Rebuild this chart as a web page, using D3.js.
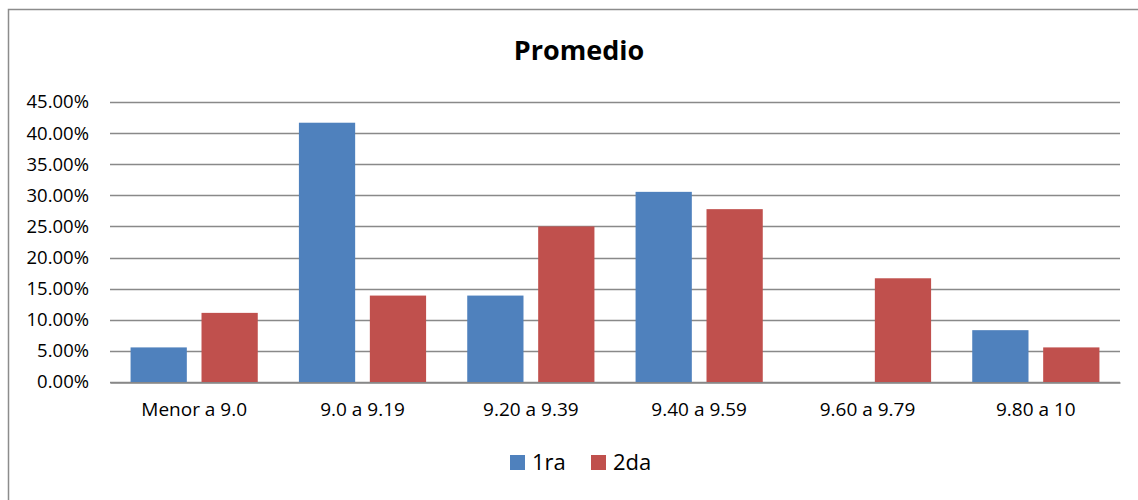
<!DOCTYPE html>
<html>
<head>
<meta charset="utf-8">
<script src="https://cdn.jsdelivr.net/npm/d3@7"></script>
<style>
  body { margin: 0; background: #fff; }
  text { font-family: "Open Sans", "Noto Sans", sans-serif; fill: #000; }
</style>
</head>
<body>
<svg id="chart"></svg>
<script>
/* datos del grafico */
var categorias = ["Menor a 9.0", "9.0 a 9.19", "9.20 a 9.39", "9.40 a 9.59", "9.60 a 9.79", "9.80 a 10"];
var series = ["1ra", "2da"];
var primera = [0.0556, 0.4167, 0.1389, 0.3056, 0, 0.0833];
var segunda = [0.1111, 0.1389, 0.25, 0.2778, 0.1667, 0.0556];
var ticksY = [0, 0.05, 0.10, 0.15, 0.20, 0.25, 0.30, 0.35, 0.40, 0.45];

var width = 1138, height = 500;
var margin = {left: 110, right: 18, top: 102, bottom: 118};

var svg = d3.select("#chart")
	.attr("width", width)
	.attr("height", height);

/* marco exterior */
svg.append("rect")
	.attr("x", 8.5)
	.attr("y", 9.5)
	.attr("width", width + 20)
	.attr("height", height + 20)
	.attr("fill", "none")
	.attr("stroke", "#8c8c8c")
	.attr("stroke-width", 1.5);

var x0 = d3.scaleBand()
	.domain(categorias)
	.range([margin.left, width - margin.right])
	.paddingInner(0)
	.paddingOuter(0);

var x1 = d3.scaleBand()
	.domain(series)
	.range([0, x0.bandwidth()])
	.paddingInner(0.207)
	.paddingOuter(0.29);

var y = d3.scaleLinear()
	.domain([0, 0.45])
	.range([height - margin.bottom, margin.top]);

var color = d3.scaleOrdinal(series, ["#4f81bd", "#c0504d"]);

/* lineas de cuadricula */
svg.append("g")
	.selectAll("line")
	.data(ticksY)
	.enter()
	.append("line")
		.attr("x1", margin.left)
		.attr("x2", width - margin.right)
		.attr("y1", function(d) { return Math.round(y(d)) + 0.5; })
		.attr("y2", function(d) { return Math.round(y(d)) + 0.5; })
		.attr("stroke", "#898989")
		.attr("stroke-width", 1.6);

/* eje Y */
var yAxis = svg.append("g")
	.attr("transform", "translate(" + margin.left + ",0)")
	.call(d3.axisLeft(y)
		.tickValues(ticksY)
		.tickSize(0)
		.tickPadding(21)
		.tickFormat(d3.format(".2%")));
yAxis.select(".domain").remove();
yAxis.selectAll("text")
	.style("font-size", "18.5px")
	.attr("fill", "#000");

/* barras */
var datos = categorias.map(function(c, i) {
	return {categoria: c, valores: [
		{serie: "1ra", valor: primera[i]},
		{serie: "2da", valor: segunda[i]}
	]};
});

svg.append("g")
	.selectAll("g")
	.data(datos)
	.enter()
	.append("g")
		.attr("transform", function(d) { return "translate(" + x0(d.categoria) + ",0)"; })
	.selectAll("rect")
	.data(function(d) { return d.valores; })
	.enter()
	.append("rect")
		.attr("x", function(d) { return x1(d.serie); })
		.attr("width", x1.bandwidth())
		.attr("y", function(d) { return y(d.valor); })
		.attr("height", function(d) { return y(0) - y(d.valor); })
		.attr("fill", function(d) { return color(d.serie); });

/* eje X */
var xAxis = svg.append("g")
	.attr("transform", "translate(0," + (Math.round(y(0)) + 0.5) + ")")
	.call(d3.axisBottom(x0).tickSize(0).tickPadding(20));
xAxis.select(".domain")
	.attr("stroke", "#898989")
	.attr("stroke-width", 1.6);
xAxis.selectAll("text")
	.style("font-size", "19px")
	.attr("fill", "#000");

/* titulo */
svg.append("text")
	.attr("x", 579)
	.attr("y", 60)
	.attr("text-anchor", "middle")
	.style("font-size", "27px")
	.style("font-weight", "bold")
	.text("Promedio");

/* leyenda */
var leyenda = svg.append("g")
	.attr("transform", "translate(510,455)");

var item = leyenda.selectAll("g")
	.data(series)
	.enter()
	.append("g")
		.attr("transform", function(d, i) { return "translate(" + (i * 81) + ",0)"; });

item.append("rect")
	.attr("width", 15)
	.attr("height", 15)
	.attr("fill", function(d) { return color(d); });

item.append("text")
	.attr("x", 22)
	.attr("y", 15)
	.style("font-size", "22px")
	.text(function(d) { return d; });
</script>
</body>
</html>
